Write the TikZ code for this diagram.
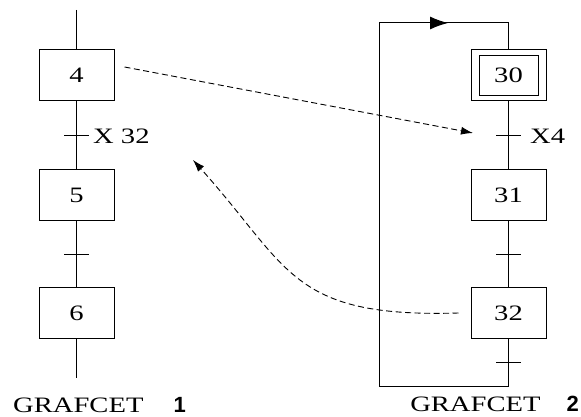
\documentclass[tikz,border=0pt]{standalone}
\usepackage{fontspec}
\setmainfont{Liberation Serif}[FakeStretch=1.3]
\newfontfamily\numfont{Liberation Sans}
\usetikzlibrary{arrows.meta}
\usetikzlibrary{math}

\tikzset{
  stepbox/.style={draw, line width=1pt, minimum width=75, minimum height=51, inner sep=0pt},
  link/.style={line width=1pt},
  tickmark/.style={line width=1pt},
  signal/.style={line width=0.9pt, dash pattern=on 6pt off 3.5pt, -{Latex[length=12pt,width=8pt]}},
}

\begin{document}
\begin{tikzpicture}[x=1pt,y=1pt,font=\fontsize{22}{26}\selectfont]
\tikzmath{
\xa=76.5;
\xb=508.5;
}
\useasboundingbox (0,0) rectangle (581,417);

% grafcet 1
\node[stepbox] (s4) at (\xa,341.5) {4};
\node[stepbox] (s5) at (\xa,222) {5};
\node[stepbox] (s6) at (\xa,104) {6};
\coordinate (in1) at (\xa,407);
\coordinate (out1) at (\xa,39);
\coordinate (t45) at (\xa,281);
\coordinate (t56) at (\xa,162);
\draw[link] (in1) -- (s4) -- (s5) -- (s6) -- (out1);
\foreach \t in {t45,t56}{
\draw[tickmark] ([xshift=-12.5]\t) -- ([xshift=12.5]\t);
}
\node[anchor=west, inner sep=0pt] (c45) at ([xshift=16.5]t45) {X 32};
\node[anchor=base west, inner sep=0pt] (g1) at (13,4) {GRAFCET\hspace{30pt}{\numfont\bfseries 1}};

% grafcet 2, initial step 30 looped back from the last transition
\node[stepbox] (s30) at (\xb,341.5) {};
\node[draw, line width=1pt, minimum width=59, minimum height=40, inner sep=0pt] (s30i) at (s30) {30};
\node[stepbox] (s31) at (\xb,222) {31};
\node[stepbox] (s32) at (\xb,104) {32};
\coordinate (t3031) at (\xb,281);
\coordinate (t3132) at (\xb,162);
\coordinate (t3230) at (\xb,54);
\coordinate (lb) at (\xb,30);
\coordinate (lt) at (379,394);
\coordinate (top) at (\xb,394);
\coordinate (arr) at (448,394);
\draw[link] (s30) -- (s31) -- (s32) -- (lb) -| (lt) -- (top) -- (s30);
\draw[link, -{Latex[length=18pt,width=13pt]}] (lt) -- (arr);
\foreach \t in {t3031,t3132,t3230}{
\draw[tickmark] ([xshift=-12.5]\t) -- ([xshift=12.5]\t);
}
\node[anchor=west, inner sep=0pt] (c3031) at ([xshift=21.5]t3031) {X4};
\node[anchor=base east, inner sep=0pt] (g2) at (579,5) {GRAFCET\hspace{26pt}{\numfont\bfseries 2}};

% X4 and X32 read across
\coordinate (x4tip) at (473,284);
\coordinate (x32tip) at (193,257);
\draw[signal] ([shift={(10,8.5)}]s4.east) -- (x4tip);
\draw[signal] ([xshift=-12]s32.west) .. controls (290,99) and (290,149) .. (x32tip);
\end{tikzpicture}
\end{document}
